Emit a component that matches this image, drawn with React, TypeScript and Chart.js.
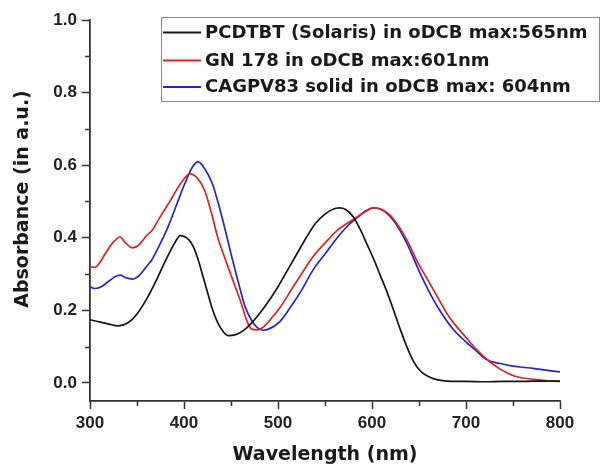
import React, { useEffect, useRef } from "react";
import { Chart, registerables } from "chart.js";

Chart.register(...registerables);

// ---- Data ----
const seriesLabels = [
  "PCDTBT (Solaris) in oDCB max:565nm",
  "GN 178 in oDCB max:601nm",
  "CAGPV83 solid in oDCB max: 604nm",
];
const seriesColors = ["#151515", "#e0231f", "#2424d8"];

const pcdtbtWl = [300, 310, 320, 330, 340, 350, 360, 370, 380, 390, 396, 405, 410, 415, 420, 425, 430, 436, 442, 447, 455, 462, 470, 480, 490, 500, 510, 520, 530, 540, 550, 558, 565, 572, 580, 588, 595, 602, 609, 616, 623, 630, 637, 644, 651, 658, 666, 675, 685, 700, 720, 740, 760, 780, 800];
const pcdtbtAbs = [0.174, 0.168, 0.162, 0.157, 0.165, 0.19, 0.23, 0.28, 0.335, 0.385, 0.406, 0.395, 0.375, 0.34, 0.295, 0.25, 0.205, 0.165, 0.14, 0.13, 0.133, 0.142, 0.16, 0.19, 0.225, 0.265, 0.31, 0.355, 0.4, 0.44, 0.465, 0.478, 0.482, 0.478, 0.458, 0.42, 0.38, 0.34, 0.295, 0.25, 0.2, 0.148, 0.1, 0.06, 0.034, 0.02, 0.011, 0.006, 0.004, 0.004, 0.003, 0.004, 0.004, 0.005, 0.004];

const gn178Wl = [300, 305, 310, 316, 324, 332, 338, 345, 352, 360, 366, 373, 380, 385, 390, 398, 406, 414, 422, 429, 436, 444, 451, 458, 462, 467, 472, 478, 485, 493, 502, 515, 525, 537, 550, 563, 580, 592, 601, 610, 620, 637, 648, 658, 670, 680, 690, 700, 710, 722, 735, 745, 755, 771, 785, 800];
const gn178Abs = [0.32, 0.318, 0.33, 0.355, 0.385, 0.402, 0.385, 0.372, 0.38, 0.405, 0.42, 0.45, 0.48, 0.5, 0.523, 0.555, 0.576, 0.565, 0.53, 0.47, 0.4, 0.34, 0.29, 0.24, 0.21, 0.17, 0.148, 0.146, 0.155, 0.178, 0.207, 0.26, 0.3, 0.347, 0.385, 0.42, 0.45, 0.47, 0.482, 0.478, 0.46, 0.394, 0.335, 0.29, 0.235, 0.19, 0.155, 0.125, 0.095, 0.065, 0.04, 0.026, 0.016, 0.01, 0.006, 0.005];

const cagpvWl = [300, 305, 312, 320, 327, 332, 338, 345, 352, 360, 366, 375, 383, 392, 401, 409, 415, 422, 430, 437, 444, 451, 458, 465, 472, 478, 484, 490, 502, 515, 525, 537, 550, 563, 575, 584, 594, 602, 612, 625, 637, 651, 660, 672, 685, 699, 710, 722, 735, 748, 760, 771, 785, 800];
const cagpvAbs = [0.265, 0.26, 0.265, 0.28, 0.293, 0.297, 0.29, 0.286, 0.295, 0.32, 0.34, 0.385, 0.43, 0.49, 0.55, 0.595, 0.609, 0.59, 0.55, 0.49, 0.42, 0.345, 0.275, 0.21, 0.172, 0.152, 0.145, 0.148, 0.169, 0.215, 0.255, 0.31, 0.355, 0.4, 0.435, 0.455, 0.475, 0.482, 0.475, 0.44, 0.385, 0.303, 0.255, 0.2, 0.152, 0.115, 0.09, 0.064, 0.054, 0.047, 0.043, 0.04, 0.035, 0.03];

const xTickMin = 300;
const xTickMax = 800;
const yMin = -0.05;
const yMax = 1.0;
const xMinorTicks = [350, 450, 550, 650, 750];
const yMinorTicks = [0.1, 0.3, 0.5, 0.7, 0.9];
const xTitle = "Wavelength (nm)";
const yTitle = "Absorbance (in a.u.)";

const toPoints = (xs: number[], ys: number[]) => xs.map((x, i) => ({ x, y: ys[i] }));

const AXIS_COLOR = "#333";
const TICK_FONT = { family: "Liberation Sans", size: 17, weight: "bold" as const };
const TITLE_FAMILY = "'DejaVu Sans', sans-serif";

const decorPlugin = {
  id: "decor",
  afterDraw(chart: any) {
    const { ctx, chartArea, scales } = chart;
    const xs = scales.x;
    const ys = scales.y;
    ctx.save();
    // minor ticks
    ctx.strokeStyle = AXIS_COLOR;
    ctx.lineWidth = 1.5;
    ctx.beginPath();
    xMinorTicks.forEach((v) => {
      const px = Math.round(xs.getPixelForValue(v)) + 0.5;
      ctx.moveTo(px, chartArea.bottom);
      ctx.lineTo(px, chartArea.bottom + 5);
    });
    yMinorTicks.forEach((v) => {
      const py = Math.round(ys.getPixelForValue(v)) + 0.5;
      ctx.moveTo(chartArea.left - 5, py);
      ctx.lineTo(chartArea.left, py);
    });
    ctx.stroke();

    // y axis title
    ctx.save();
    ctx.translate(23, 199);
    ctx.rotate(-Math.PI / 2);
    ctx.font = `bold 19px ${TITLE_FAMILY}`;
    ctx.fillStyle = "#1a1a1a";
    ctx.textAlign = "center";
    ctx.textBaseline = "middle";
    ctx.fillText(yTitle, 0, 0);
    ctx.restore();

    // legend box
    const boxL = 161.5, boxT = 17.5, boxR = 599.5, boxB = 101.5;
    ctx.fillStyle = "#fff";
    ctx.fillRect(boxL, boxT, boxR - boxL, boxB - boxT);
    ctx.strokeStyle = "#8a8a8a";
    ctx.lineWidth = 1;
    ctx.strokeRect(boxL, boxT, boxR - boxL, boxB - boxT);
    const rows = [32.5, 60.5, 87];
    ctx.font = `bold 18px ${TITLE_FAMILY}`;
    ctx.textAlign = "left";
    ctx.textBaseline = "middle";
    chart.data.datasets.forEach((ds: any, i: number) => {
      const y = rows[i];
      ctx.strokeStyle = ds.borderColor;
      ctx.lineWidth = 1.8;
      ctx.beginPath();
      ctx.moveTo(163, y);
      ctx.lineTo(201, y);
      ctx.stroke();
      ctx.fillStyle = "#1a1a1a";
      ctx.fillText(ds.label, 205, y + 0.5);
    });
    ctx.restore();
  },
};

export default function App() {
  const canvasRef = useRef<HTMLCanvasElement | null>(null);

  useEffect(() => {
    const canvas = canvasRef.current;
    if (!canvas) return;
    const series = [
      toPoints(pcdtbtWl, pcdtbtAbs),
      toPoints(gn178Wl, gn178Abs),
      toPoints(cagpvWl, cagpvAbs),
    ];
    const chart = new Chart(canvas, {
      type: "line",
      data: {
        datasets: series.map((pts, i) => ({
          label: seriesLabels[i],
          data: pts,
          borderColor: seriesColors[i],
          backgroundColor: seriesColors[i],
          borderWidth: 1.7,
          pointRadius: 0,
          fill: false,
          cubicInterpolationMode: "monotone" as const,
        })),
      },
      options: {
        responsive: false,
        animation: false,
        layout: { padding: { left: 0, top: 20, right: 42, bottom: 0 } },
        plugins: {
          legend: { display: false },
          tooltip: { enabled: false },
        },
        scales: {
          x: {
            type: "linear",
            min: xTickMin,
            max: xTickMax,
            ticks: {
              stepSize: 100,
              color: "#222",
              font: TICK_FONT,
              padding: 4,
              maxRotation: 0,
            },
            grid: {
              display: true,
              drawOnChartArea: false,
              drawTicks: true,
              tickLength: 8,
              tickColor: AXIS_COLOR,
              tickWidth: 1.5,
            },
            border: { display: true, color: AXIS_COLOR, width: 1.8 },
            title: {
              display: true,
              text: xTitle,
              color: "#1a1a1a",
              font: { family: TITLE_FAMILY, size: 19, weight: "bold" },
              padding: { top: 0, bottom: 0 },
            },
            afterFit(scale: any) {
              scale.height = 65;
            },
          },
          y: {
            type: "linear",
            min: yMin,
            max: yMax,
            ticks: {
              stepSize: 0.2,
              includeBounds: false,
              color: "#222",
              font: TICK_FONT,
              padding: 5,
              callback: (v: any) => Number(v).toFixed(1),
            },
            grid: {
              display: true,
              drawOnChartArea: false,
              drawTicks: true,
              tickLength: 8,
              tickColor: AXIS_COLOR,
              tickWidth: 1.5,
            },
            border: { display: true, color: AXIS_COLOR, width: 1.8 },
            afterFit(scale: any) {
              scale.width = 90;
            },
          },
        },
      },
      plugins: [decorPlugin],
    });
    return () => chart.destroy();
  }, []);

  return (
    <div style={{ position: "absolute", left: 0, top: 0, width: 602, height: 466, background: "#fff" }}>
      <canvas ref={canvasRef} width={602} height={466} style={{ display: "block" }} />
    </div>
  );
}
